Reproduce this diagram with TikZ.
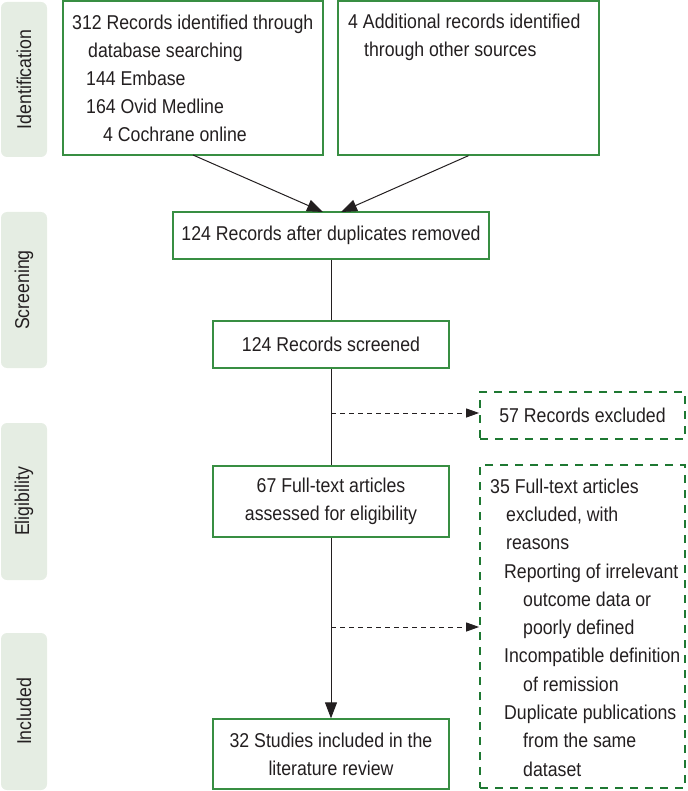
\documentclass[tikz,border=0pt]{standalone}
\usepackage{fontspec}
\setmainfont{Liberation Sans}[FakeStretch=0.885]
\usetikzlibrary{arrows.meta}
\definecolor{txt}{RGB}{35,31,32}
\definecolor{gbor}{RGB}{56,142,66}
\definecolor{gdash}{RGB}{30,120,50}
\definecolor{side}{RGB}{229,237,227}
\begin{document}
\begin{tikzpicture}[x=1pt,y=-1pt,
  every node/.style={text=txt, font=\fontsize{20}{28}\selectfont, inner sep=0pt},
  sidebar/.style={fill=side, rounded corners=6pt, minimum height=46pt, rotate=90},
  gbox/.style={draw=gbor, line width=1.3pt, fill=white},
  dbox/.style={draw=gdash, line width=1.8pt, dash pattern=on 8pt off 7pt},
  conn/.style={draw=txt, line width=1pt},
  sarrow/.style={conn, -{Triangle[length=16pt,width=12pt]}},
  darrow/.style={conn, dash pattern=on 5pt off 4pt, -{Triangle[length=13pt,width=9pt]}},
]
\useasboundingbox (0,0) rectangle (687,791);

% side bars
\node[sidebar, minimum width=155pt] (sid) at (24,79.5) {Identification};
\node[sidebar, minimum width=156pt] (sscr) at (24,290) {Screening};
\node[sidebar, minimum width=157pt] (selig) at (24,501.5) {Eligibility};
\node[sidebar, minimum width=157pt] (sinc) at (24,711.5) {Included};

% boxes
\node[gbox, minimum width=260pt, minimum height=154pt] (b1) at (193,78) {};
\node[gbox, minimum width=261pt, minimum height=154pt] (b2) at (468.5,78) {};
\node[gbox, minimum width=316pt, minimum height=47pt] (b3) at (331,235.5) {124 Records after duplicates removed};
\node[gbox, minimum width=236pt, minimum height=47pt] (b4) at (331,344.5) {124 Records screened};
\node[gbox, minimum width=236pt, minimum height=71pt, align=center] (b5) at (331,501.5) {67 Full-text articles\\assessed for eligibility};
\node[gbox, minimum width=236pt, minimum height=70pt, align=center] (b6) at (331,754) {32 Studies included in the\\literature review};
\node[dbox, minimum width=205pt, minimum height=47pt] (d1) at (582.5,415.5) {57 Records excluded};
\node[dbox, minimum width=205pt, minimum height=323pt] (d2) at (582.5,626.5) {};

% texts of left-aligned boxes
\node[anchor=north west, align=left] (t1) at (72,14.4) {312 Records identified through\\\hspace*{16pt}database searching\\\hspace*{14pt}144 Embase\\\hspace*{14pt}164 Ovid Medline\\\hspace*{31pt}4 Cochrane online};
\node[anchor=north west, align=left] (t2) at (348,13.4) {4 Additional records identified\\\hspace*{16pt}through other sources};
\node[anchor=north west, align=left, font=\fontsize{20}{28.3}\selectfont] (t3) at (490,478.4) {35 Full-text articles\\\hspace*{16pt}excluded, with\\\hspace*{16pt}reasons\\\hspace*{14pt}Reporting of irrelevant\\\hspace*{33pt}outcome data or\\\hspace*{33pt}poorly defined\\\hspace*{14pt}Incompatible definition\\\hspace*{33pt}of remission\\\hspace*{14pt}Duplicate publications\\\hspace*{33pt}from the same\\\hspace*{33pt}dataset};

% connectors
\coordinate (b1out) at (193,155);
\coordinate (b3inL) at (323,212);
\coordinate (b3inR) at (341,212);
\coordinate (j1) at (331,413);
\coordinate (j2) at (331,627);
\draw[sarrow] (b1out) -- (b3inL);
\draw[sarrow] (b2.south) -- (b3inR);
\draw[conn] (b3.south) -- (b4.north);
\draw[conn] (b4.south) -- (b5.north);
\draw[sarrow] (b5.south) -- (b6.north);
\draw[darrow] (j1) -- (j1 -| d1.west);
\draw[darrow] (j2) -- (j2 -| d2.west);
\end{tikzpicture}
\end{document}
